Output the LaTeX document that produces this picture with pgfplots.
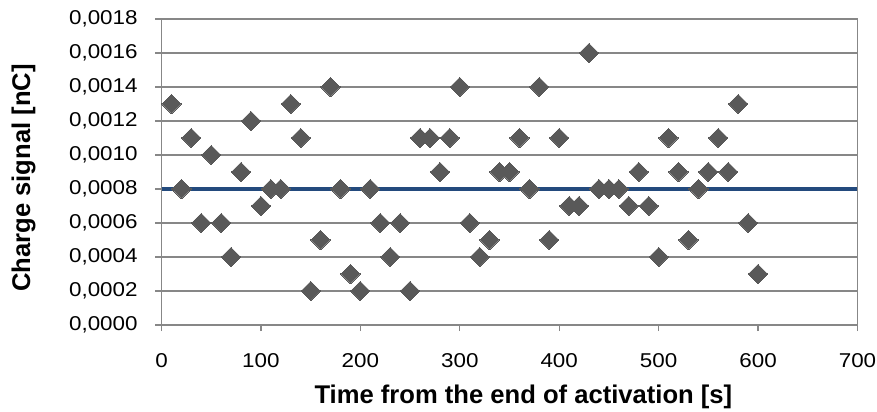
\documentclass[border=0pt]{standalone}
\usepackage{fontspec}
\setmainfont{Liberation Sans}
\newfontfamily\tickfont[FakeStretch=1.12]{Liberation Sans}
\usepackage{pgfplots}
\pgfplotsset{compat=1.18}
\definecolor{gridgray}{HTML}{878787}
\definecolor{markgray}{HTML}{595959}
\definecolor{lineblue}{HTML}{234A7D}

\begin{document}
\begin{tikzpicture}
\useasboundingbox (0,0) rectangle (877bp,412bp);
\begin{axis}[
    at={(161.5bp,87bp)}, anchor=south west,
    scale only axis, width=696bp, height=306bp,
    xmin=0, xmax=700, ymin=0, ymax=0.0018,
    xtick={0,100,200,300,400,500,600,700},
    ytick={0,0.0002,0.0004,0.0006,0.0008,0.001,0.0012,0.0014,0.0016,0.0018},
    scaled y ticks=false,
    xtick pos=bottom, ytick pos=left,
    tick align=outside, major tick length=6bp,
    tick style={gridgray, line width=1.2bp},
    axis line style={gridgray, line width=1.2bp},
    ymajorgrids, grid style={gridgray, line width=1.2bp},
    ticklabel style={font=\tickfont\fontsize{20bp}{24bp}\selectfont, inner sep=0pt},
    /pgf/number format/assume math mode=true,
    yticklabel style={/pgf/number format/fixed, /pgf/number format/fixed zerofill,
      /pgf/number format/precision=4, /pgf/number format/use comma,
      anchor=east, xshift=-17.7bp},
    xticklabel style={/pgf/number format/1000 sep={}, anchor=north, yshift=-22bp},
    xlabel={Time from the end of activation [s]},
    ylabel={Charge signal [nC]},
    label style={font=\bfseries\fontsize{25.6bp}{30bp}\selectfont, inner sep=0pt},
    xlabel style={at={(axis description cs:0.52,-0.258)}, anchor=base},
    ylabel style={at={(axis description cs:-0.1886,0.48)}, anchor=base},
  ]
  \addplot[lineblue, line width=3.3bp, no markers] coordinates {(0,0.0008) (700,0.0008)};
  \addplot[only marks, mark=square*, mark size=6.8bp,
    mark options={rotate=45, fill=markgray, draw=markgray, line width=0pt}] coordinates {
    (10,0.0013) (20,0.0008) (30,0.0011) (40,0.0006) (50,0.0010) (60,0.0006)
    (70,0.0004) (80,0.0009) (90,0.0012) (100,0.0007) (110,0.0008) (120,0.0008)
    (130,0.0013) (140,0.0011) (150,0.0002) (160,0.0005) (170,0.0014) (180,0.0008)
    (190,0.0003) (200,0.0002) (210,0.0008) (220,0.0006) (230,0.0004) (240,0.0006)
    (250,0.0002) (260,0.0011) (270,0.0011) (280,0.0009) (290,0.0011) (300,0.0014)
    (310,0.0006) (320,0.0004) (330,0.0005) (340,0.0009) (350,0.0009) (360,0.0011)
    (370,0.0008) (380,0.0014) (390,0.0005) (400,0.0011) (410,0.0007) (420,0.0007)
    (430,0.0016) (440,0.0008) (450,0.0008) (460,0.0008) (470,0.0007) (480,0.0009)
    (490,0.0007) (500,0.0004) (510,0.0011) (520,0.0009) (530,0.0005) (540,0.0008)
    (550,0.0009) (560,0.0011) (570,0.0009) (580,0.0013) (590,0.0006) (600,0.0003)
  };
\end{axis}
\end{tikzpicture}
\end{document}
